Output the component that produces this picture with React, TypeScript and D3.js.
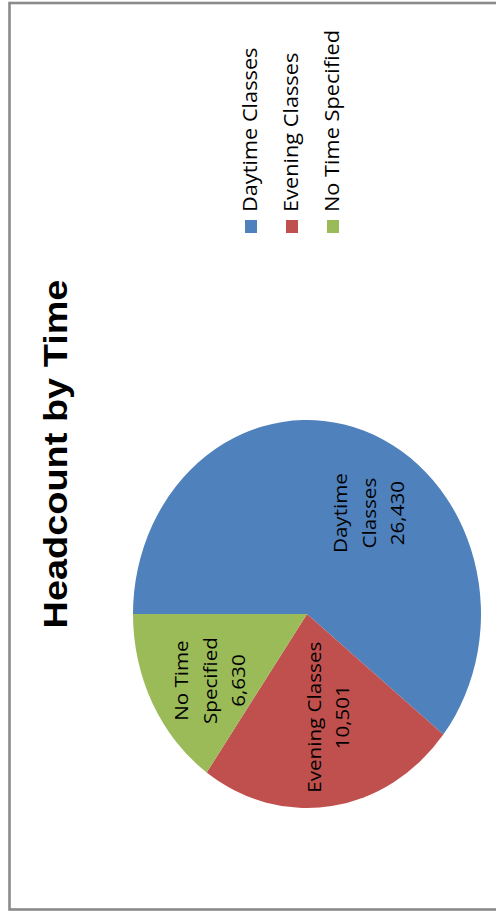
import React from 'react';
import * as d3 from 'd3';

const title = 'Headcount by Time';
const categories = ['Daytime Classes', 'Evening Classes', 'No Time Specified'];
const values = [26430, 10501, 6630];
const labelNames = [['Daytime', 'Classes'], ['Evening Classes'], ['No Time', 'Specified']];
const colors = ['#4F81BD', '#C0504D', '#9BBB59'];

const W = 496;
const H = 911;
const CX = 307;
const CY = 614;
const R = 174;
const KY = 194 / 174;
const LINE = 28.5;
const FONT = '"Open Sans", "DejaVu Sans", sans-serif';
// best-fit nudges of label boxes from the arc centroid (Excel-like placement)
const nudges: Record<string, [number, number]> = {
  'Daytime Classes': [28, 9],
  'Evening Classes': [6.6, -12],
  'No Time Specified': [-4, 13],
};

export default function App() {
  const pie = d3
    .pie<number>()
    .sort(null)
    .startAngle(-Math.PI / 2)
    .endAngle((3 * Math.PI) / 2)(values);
  const arc = d3.arc<d3.PieArcDatum<number>>().innerRadius(0).outerRadius(R);
  const labelArc = d3
    .arc<d3.PieArcDatum<number>>()
    .innerRadius(R * 0.6)
    .outerRadius(R * 0.6);
  const fmt = d3.format(',');

  return (
    <svg
      width={W}
      height={H}
      style={{ position: 'absolute', left: 0, top: 0, background: '#fff' }}
    >
      <rect x={0} y={0} width={W} height={H} fill="#fff" />
      <rect
        x={9.5}
        y={3}
        width={W + 20}
        height={906.5}
        fill="#fff"
        stroke="#8a8a8a"
        strokeWidth={2.6}
      />
      <text
        transform={`translate(67,454) scale(1,${KY}) rotate(-90)`}
        textAnchor="middle"
        fontFamily='"Liberation Sans", Arial, sans-serif'
        fontWeight="bold"
        fontSize={34}
        fill="#000"
      >
        {title}
      </text>

      <g transform={`translate(${CX},${CY}) scale(1,${KY})`}>
        {pie.map((d, i) => (
          <path key={categories[i]} d={arc(d) || ''} fill={colors[i]} />
        ))}
      </g>

      {pie.map((d, i) => {
        const c = labelArc.centroid(d);
        const nd = nudges[categories[i]] || [0, 0];
        const lx = CX + c[0] + nd[0];
        const ly = CY + c[1] * KY + nd[1];
        const lines = [...labelNames[i], fmt(values[i])];
        const n = lines.length;
        return (
          <g key={'lbl' + i}>
            {lines.map((t, j) => (
              <text
                key={j}
                transform={`translate(${lx + (j - (n - 1) / 2) * LINE},${ly}) scale(1,${KY}) rotate(-90)`}
                textAnchor="middle"
                dy="0.35em"
                fontFamily={FONT}
                fontSize={18.5}
                fill="#000"
              >
                {t}
              </text>
            ))}
          </g>
        );
      })}

      {categories.map((name, i) => (
        <g key={'leg' + i}>
          <rect x={245 + i * 41} y={220} width={12} height={13} fill={colors[i]} />
          <text
            transform={`translate(${257 + i * 41},212) scale(1,${KY}) rotate(-90)`}
            textAnchor="start"
            fontFamily={FONT}
            fontSize={19.5}
            fill="#000"
          >
            {name}
          </text>
        </g>
      ))}
    </svg>
  );
}
